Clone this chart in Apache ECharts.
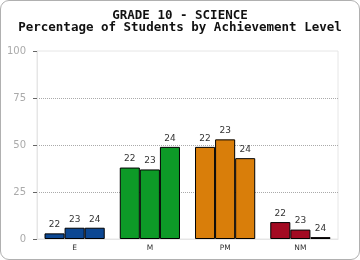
<!DOCTYPE html>
<html>
<head>
<meta charset="utf-8">
<script src="https://cdn.jsdelivr.net/npm/echarts@6/dist/echarts.min.js"></script>
<style>
  html, body { margin: 0; padding: 0; background: #fff; }
  #frame {
    position: absolute; left: 0; top: 0;
    width: 358px; height: 258px;
    border: 1px solid #b0b0b0;
    border-radius: 9px;
    overflow: hidden;
  }
  #chart { width: 358px; height: 258px; }
</style>
</head>
<body>
<div id="frame"><div id="chart"></div></div>
<script>
// achievement levels
const categories = ['E', 'M', 'PM', 'NM'];
// one series per year
const seriesNames = ['22', '23', '24'];
const values22 = [3, 38, 49, 9];
const values23 = [6, 37, 53, 5];
const values24 = [6, 49, 43, 1];
const levelColors = ['#0c4792', '#0d9a27', '#d97e0a', '#a30a22'];

const chart = echarts.init(document.getElementById('chart'));

function makeSeries(name, data) {
  return {
    name: name,
    type: 'bar',
    data: data,
    barGap: '0%',
    barCategoryGap: '20%',
    itemStyle: {
      color: p => levelColors[p.dataIndex],
      borderColor: '#000',
      borderWidth: 1
    },
    label: {
      show: true,
      position: 'top',
      distance: 4,
      formatter: () => name,
      color: '#333',
      fontSize: 9,
      fontFamily: 'DejaVu Sans'
    }
  };
}

const option = {
  animation: false,
  title: {
    text: 'GRADE 10 - SCIENCE\nPercentage of Students by Achievement Level',
    left: 'center',
    top: 4,
    textStyle: {
      fontFamily: 'DejaVu Sans Mono',
      fontWeight: 'bold',
      fontSize: 12.5,
      lineHeight: 12,
      color: '#111'
    }
  },
  grid: { left: 36, right: 21, top: 50, bottom: 20, show: true, borderColor: '#e6e6e6', borderWidth: 1 },
  xAxis: {
    type: 'category',
    data: categories,
    axisLine: { lineStyle: { color: '#e6e6e6' } },
    axisTick: { show: false },
    axisLabel: { color: '#333', fontSize: 7.5, margin: 5, fontFamily: 'DejaVu Sans' }
  },
  yAxis: {
    type: 'value',
    min: 0,
    max: 100,
    interval: 25,
    axisLine: { show: true, lineStyle: { color: '#e6e6e6' } },
    axisTick: { show: true, length: 4, lineStyle: { color: '#666' } },
    axisLabel: { color: '#aaa', fontSize: 10, margin: 11, fontFamily: 'DejaVu Sans' },
    splitLine: { showMaxLine: false, showMinLine: false, lineStyle: { color: '#aaa', type: [1, 1], width: 1 } }
  },
  series: [
    makeSeries(seriesNames[0], values22),
    makeSeries(seriesNames[1], values23),
    makeSeries(seriesNames[2], values24)
  ]
};

chart.setOption(option);
</script>
</body>
</html>
